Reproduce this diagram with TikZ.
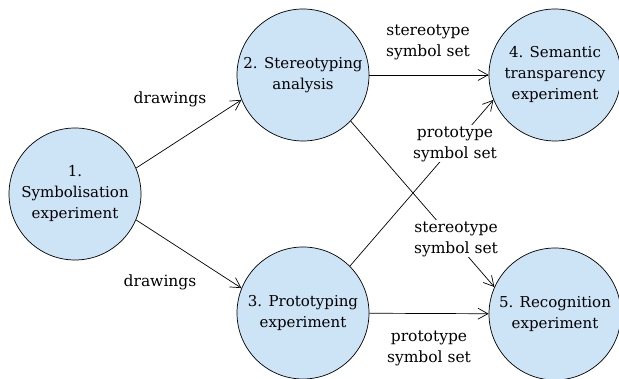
\documentclass[tikz,border=0pt]{standalone}
\usepackage{fontspec}
\setmainfont{DejaVu Serif}
\usetikzlibrary{arrows.meta}
\definecolor{cfill}{RGB}{205,227,246}
\begin{document}
\begin{tikzpicture}[x=1pt,y=1pt,
  stage/.style={circle, draw, line width=0.7pt, fill=cfill, minimum size=132pt, inner sep=0pt, align=center, font=\fontsize{15}{21}\selectfont},
  lab/.style={align=center, inner sep=1pt, font=\fontsize{15.5}{21}\selectfont},
  cover/.style={lab, fill=white},
  flow/.style={-{Straight Barb[length=10pt,width=11pt]}, line width=0.7pt}]
\useasboundingbox (0,0) rectangle (619,379);
\node[stage] (s1) at (75,185) {1.\\Symbolisation\\experiment};
\node[stage] (s2) at (303,304) {2. Stereotyping\\analysis};
\node[stage] (s3) at (303,66) {3. Prototyping\\experiment};
\node[stage] (s4) at (555,304) {4. Semantic\\transparency\\experiment};
\node[stage] (s5) at (555,65) {5. Recognition\\experiment};
\draw[flow] (s1.23) -- (s2.202);
\draw[flow] (s1.-23) -- (s3.158);
\draw[flow] (s2) -- (s4);
\draw[flow] (s3) -- (s5);
\draw[flow] (s2.-44) -- (s5.156);
\draw[flow] (s3.45.6) -- (s4.202.6);
\node[lab] (d1) at (170,280) {drawings};
\node[lab] (d2) at (160,97) {drawings};
\node[lab] (l24) at (428,337) {stereotype\\symbol set};
\node[lab] (l35) at (429,31) {prototype\\symbol set};
\node[cover] (l25) at (456,140) {stereotype\\symbol set};
\node[cover] (l34) at (455,235) {prototype\\symbol set};
\end{tikzpicture}
\end{document}
